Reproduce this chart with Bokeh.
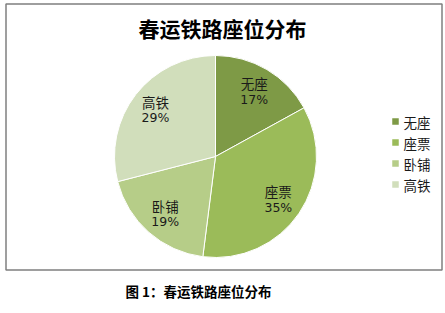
import math
from bokeh.plotting import figure
from bokeh.models import Range1d, ColumnDataSource
from bokeh.core.properties import value
from bokeh.embed import file_html
from bokeh.resources import INLINE

# ---- data ----
categories = ["无座", "座票", "卧铺", "高铁"]
percents = [17, 35, 19, 29]
colors = ["#7E9A46", "#9BBB59", "#B6CD88", "#D1DEBB"]
title_text = "春运铁路座位分布"
caption_text = "图 1：春运铁路座位分布"

FONT = "Noto Sans CJK SC"

p = figure(width=445, height=313, output_backend="svg", toolbar_location=None,
           x_range=Range1d(0, 445), y_range=Range1d(-313, 0),
           min_border=0, outline_line_color=None)
p.axis.visible = False
p.xgrid.visible = False
p.ygrid.visible = False
p.background_fill_color = "white"
p.border_fill_color = "white"

# frame of chart area
p.quad(left=[5.5], right=[441.5], top=[-3.5], bottom=[-269.5],
       fill_color=None, line_color="#7F7F7F", line_width=1.5)

# pie geometry
cx, cy, r = 215.0, -156.0, 101.0
total = float(sum(percents))
starts, ends, mids = [], [], []
c = 0.0
for v in percents:
    f0 = c / total
    c += v
    f1 = c / total
    starts.append(math.pi / 2 - 2 * math.pi * f0)
    ends.append(math.pi / 2 - 2 * math.pi * f1)
    mids.append(math.pi / 2 - 2 * math.pi * (f0 + f1) / 2)

src = ColumnDataSource(dict(start=starts, end=ends, color=colors))
p.wedge(x=cx, y=cy, radius=r, start_angle="start", end_angle="end",
        direction="clock", fill_color="color", line_color="white",
        line_width=1, source=src)

# data labels
lr = 76.0
lx = [cx + lr * math.cos(a) for a in mids]
ly = [cy + lr * math.sin(a) for a in mids]
pct_labels = ["%d%%" % v for v in percents]
p.text(x=lx, y=[y + 8 for y in ly], text=categories, text_font=value(FONT),
       text_font_size="13.5px", text_color="#1A1A1A", text_align="center",
       text_baseline="middle")
p.text(x=lx, y=[y - 8 for y in ly], text=pct_labels, text_font=value("DejaVu Sans"),
       text_font_size="12.5px", text_color="#1A1A1A", text_align="center",
       text_baseline="middle")

# legend
leg_y = [-121 - 21 * i for i in range(len(categories))]
p.rect(x=[395] * len(categories), y=leg_y, width=6.5, height=6.5,
       fill_color=colors, line_color=None)
p.text(x=[403] * len(categories), y=leg_y, text=categories, text_font=value(FONT),
       text_font_size="13.5px", text_color="#1A1A1A", text_align="left",
       text_baseline="middle")

# title
p.text(x=[222], y=[-27], text=[title_text], text_font=value(FONT),
       text_font_size="21px", text_font_style="bold", text_color="#000000",
       text_align="center", text_baseline="middle")

# caption
p.text(x=[198], y=[-290], text=[caption_text], text_font=value(FONT),
       text_font_size="13.5px", text_font_style="bold", text_color="#000000",
       text_align="center", text_baseline="middle")

open("out.html", "w").write(file_html(p, INLINE))
